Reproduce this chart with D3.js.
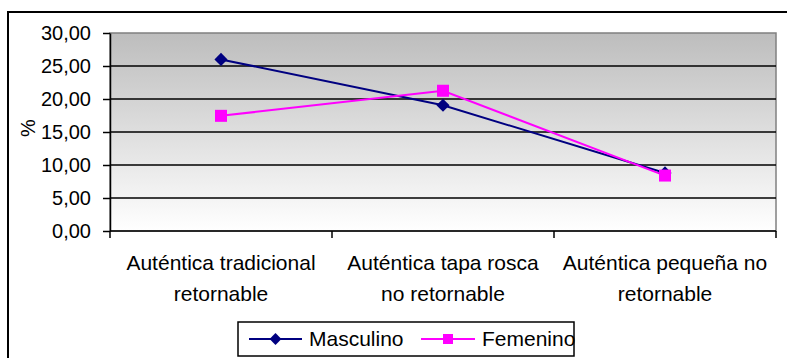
<!DOCTYPE html>
<html>
<head>
<meta charset="utf-8">
<script src="https://cdn.jsdelivr.net/npm/d3@7/dist/d3.min.js"></script>
<style>
  html, body { margin: 0; padding: 0; background: #fff; }
  svg { display: block; font-family: "Liberation Sans", Arial, sans-serif; }
</style>
</head>
<body>
<svg id="chart" width="787" height="358"></svg>
<script>
// Categories (two-line labels) and series values, in %
const categories = [
  ["Auténtica tradicional", "retornable"],
  ["Auténtica tapa rosca", "no retornable"],
  ["Auténtica pequeña no", "retornable"]
];
const masculino = [26.0, 19.05, 8.8];
const femenino = [17.45, 21.25, 8.4];
const yTicks = [0, 5, 10, 15, 20, 25, 30];
const seriesNames = ["Masculino", "Femenino"];
const seriesColors = ["#000080", "#ff00ff"];

const svg = d3.select("#chart");
const plot = { left: 110, top: 33, right: 776, bottom: 231 };

// Outer chart frame (right and bottom edges fall outside the view)
svg.append("rect")
  .attr("x", 8).attr("y", 12)
  .attr("width", 800).attr("height", 360)
  .attr("fill", "#fff").attr("stroke", "#000").attr("stroke-width", 2);

const x = d3.scaleBand().domain(d3.range(categories.length))
  .range([plot.left, plot.right]);
const y = d3.scaleLinear().domain([0, 30]).range([plot.bottom, plot.top]);

// Plot area gradient: gray at top fading to white
const defs = svg.append("defs");
const grad = defs.append("linearGradient").attr("id", "bg")
  .attr("x1", 0).attr("y1", 0).attr("x2", 0).attr("y2", 1);
grad.append("stop").attr("offset", "0%").attr("stop-color", "#bdbdbd");
grad.append("stop").attr("offset", "100%").attr("stop-color", "#ffffff");

svg.append("rect")
  .attr("x", plot.left).attr("y", plot.top)
  .attr("width", plot.right - plot.left).attr("height", plot.bottom - plot.top)
  .attr("fill", "url(#bg)").attr("stroke", "#808080").attr("stroke-width", 1.5);

// Horizontal gridlines
svg.append("g").selectAll("line")
  .data(yTicks.filter(t => t > 0 && t < 30))
  .join("line")
  .attr("x1", plot.left).attr("x2", plot.right)
  .attr("y1", d => y(d)).attr("y2", d => y(d))
  .attr("stroke", "#000").attr("stroke-width", 1.5);

// Y axis
const fmt = d => d.toFixed(2).replace(".", ",");
const yAxis = svg.append("g")
  .attr("transform", `translate(${plot.left},0)`)
  .call(d3.axisLeft(y).tickValues(yTicks).tickFormat(fmt).tickSize(7).tickSizeOuter(0));
yAxis.select(".domain").attr("stroke", "#000").attr("stroke-width", 1.5);
yAxis.selectAll(".tick line").attr("stroke", "#000").attr("stroke-width", 1.5);
yAxis.selectAll(".tick text")
  .attr("x", -19).attr("fill", "#000")
  .style("font-size", "20px").style("font-family", "Liberation Sans, Arial, sans-serif");

// X axis with ticks at band boundaries
const xAxisG = svg.append("g");
xAxisG.append("line")
  .attr("x1", plot.left).attr("x2", plot.right)
  .attr("y1", plot.bottom).attr("y2", plot.bottom)
  .attr("stroke", "#000").attr("stroke-width", 1.5);
const boundaries = d3.range(categories.length + 1)
  .map(i => i < categories.length ? x(i) : x(i - 1) + x.bandwidth());
xAxisG.selectAll("line.tk").data(boundaries).join("line")
  .attr("class", "tk")
  .attr("x1", d => d).attr("x2", d => d)
  .attr("y1", plot.bottom).attr("y2", plot.bottom + 7)
  .attr("stroke", "#000").attr("stroke-width", 1.5);

// Category labels
const catText = svg.append("g").selectAll("text").data(categories).join("text")
  .attr("text-anchor", "middle")
  .attr("font-size", 21)
  .attr("fill", "#000");
catText.each(function(lines, i) {
  const t = d3.select(this);
  lines.forEach((ln, j) => {
    t.append("tspan")
      .attr("x", x(i) + x.bandwidth() / 2)
      .attr("y", 270 + j * 31)
      .text(ln);
  });
});

// Y axis title
svg.append("text")
  .attr("transform", "translate(35,128) rotate(-90)")
  .attr("text-anchor", "middle")
  .attr("font-size", 20)
  .text("%");

// Series lines and markers
const cx = i => x(i) + x.bandwidth() / 2;
const line = d3.line().x((d, i) => cx(i)).y(d => y(d));
const allSeries = [masculino, femenino];

allSeries.forEach((vals, s) => {
  svg.append("path")
    .attr("d", line(vals))
    .attr("fill", "none")
    .attr("stroke", seriesColors[s]).attr("stroke-width", 2);
});

function marker(g, s, px, py) {
  if (s === 0) {
    g.append("path")
      .attr("d", d3.symbol().type(d3.symbolDiamond2 || d3.symbolDiamond).size(110)())
      .attr("transform", `translate(${px},${py})`)
      .attr("fill", seriesColors[s]);
  } else {
    g.append("rect")
      .attr("x", px - 6).attr("y", py - 6)
      .attr("width", 12).attr("height", 12)
      .attr("fill", seriesColors[s]);
  }
}

allSeries.forEach((vals, s) => {
  const g = svg.append("g");
  vals.forEach((v, i) => marker(g, s, cx(i), y(v)));
});

// Legend
const legend = svg.append("g");
legend.append("rect")
  .attr("x", 238).attr("y", 322)
  .attr("width", 336).attr("height", 34)
  .attr("fill", "#fff").attr("stroke", "#000").attr("stroke-width", 1.5);
const legendItems = [
  { x0: 249, x1: 302, tx: 309 },
  { x0: 421, x1: 475, tx: 482 }
];
legendItems.forEach((it, s) => {
  legend.append("line")
    .attr("x1", it.x0).attr("x2", it.x1)
    .attr("y1", 339).attr("y2", 339)
    .attr("stroke", seriesColors[s]).attr("stroke-width", 2);
  const gm = legend.append("g");
  if (s === 0) {
    gm.append("path")
      .attr("d", d3.symbol().type(d3.symbolDiamond2 || d3.symbolDiamond).size(90)())
      .attr("transform", `translate(${(it.x0 + it.x1) / 2},339)`)
      .attr("fill", seriesColors[s]);
  } else {
    gm.append("rect")
      .attr("x", (it.x0 + it.x1) / 2 - 5).attr("y", 334)
      .attr("width", 10).attr("height", 10)
      .attr("fill", seriesColors[s]);
  }
  legend.append("text")
    .attr("x", it.tx).attr("y", 346)
    .attr("font-size", 21)
    .text(seriesNames[s]);
});
</script>
</body>
</html>
